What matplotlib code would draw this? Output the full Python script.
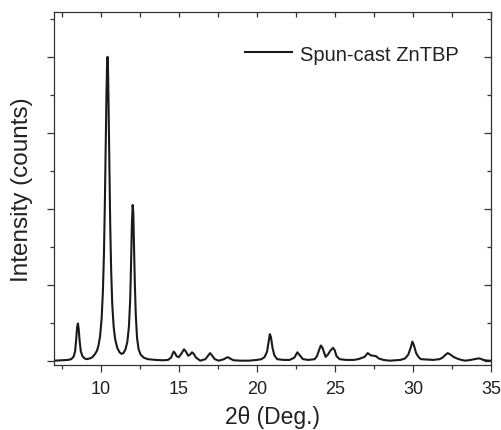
import matplotlib
matplotlib.use("Agg")
import matplotlib.pyplot as plt
from matplotlib.ticker import MultipleLocator, NullFormatter

plt.rcParams['font.family'] = ['Liberation Sans', 'DejaVu Sans']

# 2theta (deg) and intensity (arb., one major tick = 1)
two_theta = [7.0, 7.5, 7.9, 8.1, 8.25, 8.35, 8.42, 8.48, 8.53, 8.58, 8.64, 8.72, 8.82, 8.95,
             9.1, 9.3, 9.45, 9.6, 9.75, 9.85, 9.95, 10.05, 10.13, 10.2, 10.26, 10.31, 10.36,
             10.40, 10.43, 10.46, 10.50, 10.55, 10.60, 10.66, 10.73, 10.82, 10.92, 11.05,
             11.2, 11.32, 11.45, 11.58, 11.7, 11.8, 11.88, 11.94, 11.99, 12.04, 12.08, 12.13,
             12.18, 12.24, 12.32, 12.42, 12.55, 12.75, 13.0, 13.5, 14.0, 14.3, 14.5, 14.6,
             14.67, 14.75, 14.85, 14.99, 15.15, 15.33, 15.45, 15.6, 15.72, 15.84, 15.95, 16.1,
             16.37, 16.7, 16.85, 17.0, 17.12, 17.3, 17.55, 17.9, 18.05, 18.15, 18.27, 18.5,
             19.0, 19.5, 20.0, 20.3, 20.5, 20.65, 20.75, 20.83, 20.9, 21.0, 21.12, 21.3, 21.7,
             22.1, 22.4, 22.59, 22.75, 22.95, 23.3, 23.7, 23.85, 24.0, 24.1, 24.2, 24.4, 24.55,
             24.7, 24.88, 24.98, 25.1, 25.3, 25.7, 26.2, 26.5, 26.7, 26.9, 27.1, 27.3, 27.45,
             27.63, 27.8, 28.1, 28.5, 29.2, 29.5, 29.7, 29.85, 29.96, 30.05, 30.2, 30.35, 30.5,
             30.9, 31.3, 31.7, 31.9, 32.1, 32.23, 32.4, 32.6, 32.8, 33.1, 33.35, 33.7, 33.95,
             34.2, 34.35, 34.5, 34.8, 35.0]
intensity = [0.0, 0.005, 0.01, 0.02, 0.05, 0.12, 0.28, 0.44, 0.49, 0.42, 0.26, 0.12, 0.06, 0.03,
             0.02, 0.03, 0.045, 0.08, 0.13, 0.2, 0.32, 0.55, 0.9, 1.4, 2.1, 2.8, 3.5,
             3.9, 4.0, 3.85, 3.3, 2.5, 1.8, 1.2, 0.75, 0.45, 0.28, 0.17,
             0.11, 0.09, 0.1, 0.15, 0.25, 0.45, 0.8, 1.3, 1.8, 2.05, 1.95, 1.5,
             1.0, 0.6, 0.3, 0.15, 0.08, 0.04, 0.02, 0.01, 0.005, 0.01, 0.04, 0.09,
             0.12, 0.1, 0.06, 0.045, 0.09, 0.15, 0.12, 0.065, 0.08, 0.11, 0.09, 0.04,
             0.0, 0.02, 0.06, 0.10, 0.07, 0.02, 0.0, 0.02, 0.04, 0.045, 0.03, 0.005,
             0.0, 0.0, 0.01, 0.02, 0.05, 0.12, 0.25, 0.35, 0.31, 0.17, 0.07, 0.02, 0.01,
             0.01, 0.04, 0.11, 0.07, 0.02, 0.01, 0.02, 0.06, 0.15, 0.2, 0.17, 0.05, 0.08,
             0.13, 0.17, 0.14, 0.06, 0.02, 0.01, 0.01, 0.02, 0.035, 0.05, 0.1, 0.07, 0.065,
             0.06, 0.03, 0.01, 0.0, 0.01, 0.03, 0.08, 0.17, 0.25, 0.21, 0.1, 0.05, 0.02,
             0.015, 0.01, 0.02, 0.04, 0.08, 0.1, 0.08, 0.05, 0.03, 0.01, 0.0, 0.01, 0.02,
             0.03, 0.025, 0.01, 0.0, 0.0]

fig = plt.figure(figsize=(5.02, 4.31), dpi=100)
ax = fig.add_axes([0.1076, 0.1508, 0.8705, 0.819])
line_color = '#1a1a1a'
ax.plot(two_theta, intensity, color=line_color, lw=1.5, label='Spun-cast ZnTBP')

ax.set_xlim(7, 35)
ax.set_ylim(-0.057, 4.59)
ax.xaxis.set_major_locator(MultipleLocator(5))
ax.xaxis.set_minor_locator(MultipleLocator(2.5))
ax.yaxis.set_major_locator(MultipleLocator(1))
ax.yaxis.set_minor_locator(MultipleLocator(0.5))
ax.yaxis.set_major_formatter(NullFormatter())
ax.tick_params(axis='both', which='major', direction='out', length=5, width=0.9,
               color='#333333', labelsize=13, labelcolor='#222222', pad=6)
ax.tick_params(axis='both', which='minor', direction='out', length=3, width=0.9, color='#333333')
for s in ax.spines.values():
    s.set_color('#333333')
    s.set_linewidth(0.9)

top = ax.secondary_xaxis('top')
top.xaxis.set_major_locator(MultipleLocator(5))
top.xaxis.set_minor_locator(MultipleLocator(2.5))
top.tick_params(which='both', direction='in', length=3.5, width=0.9, color='#333333',
                labeltop=False)
top.spines['top'].set_visible(False)
right = ax.secondary_yaxis('right')
right.yaxis.set_major_locator(MultipleLocator(1))
right.yaxis.set_minor_locator(MultipleLocator(0.5))
right.tick_params(which='major', direction='in', length=5, width=0.9, color='#333333',
                  labelright=False)
right.tick_params(which='minor', direction='in', length=3, width=0.9, color='#333333',
                  labelright=False)
right.spines['right'].set_visible(False)

ax.set_xlabel('2θ (Deg.)', fontsize=16.5, color='#222222')
ax.xaxis.set_label_coords(0.5, -0.113)
ax.set_ylabel('Intensity (counts)', fontsize=17.5, color='#222222')
ax.yaxis.set_label_coords(-0.048, 0.5)

leg = ax.legend(loc='center left', frameon=False, fontsize=14.5, handlelength=2.35,
                handletextpad=0.4, bbox_to_anchor=(0.437, 0.881), borderaxespad=0,
                borderpad=0)
for t in leg.get_texts():
    t.set_color('#222222')

fig.savefig('out.png', dpi=100)
